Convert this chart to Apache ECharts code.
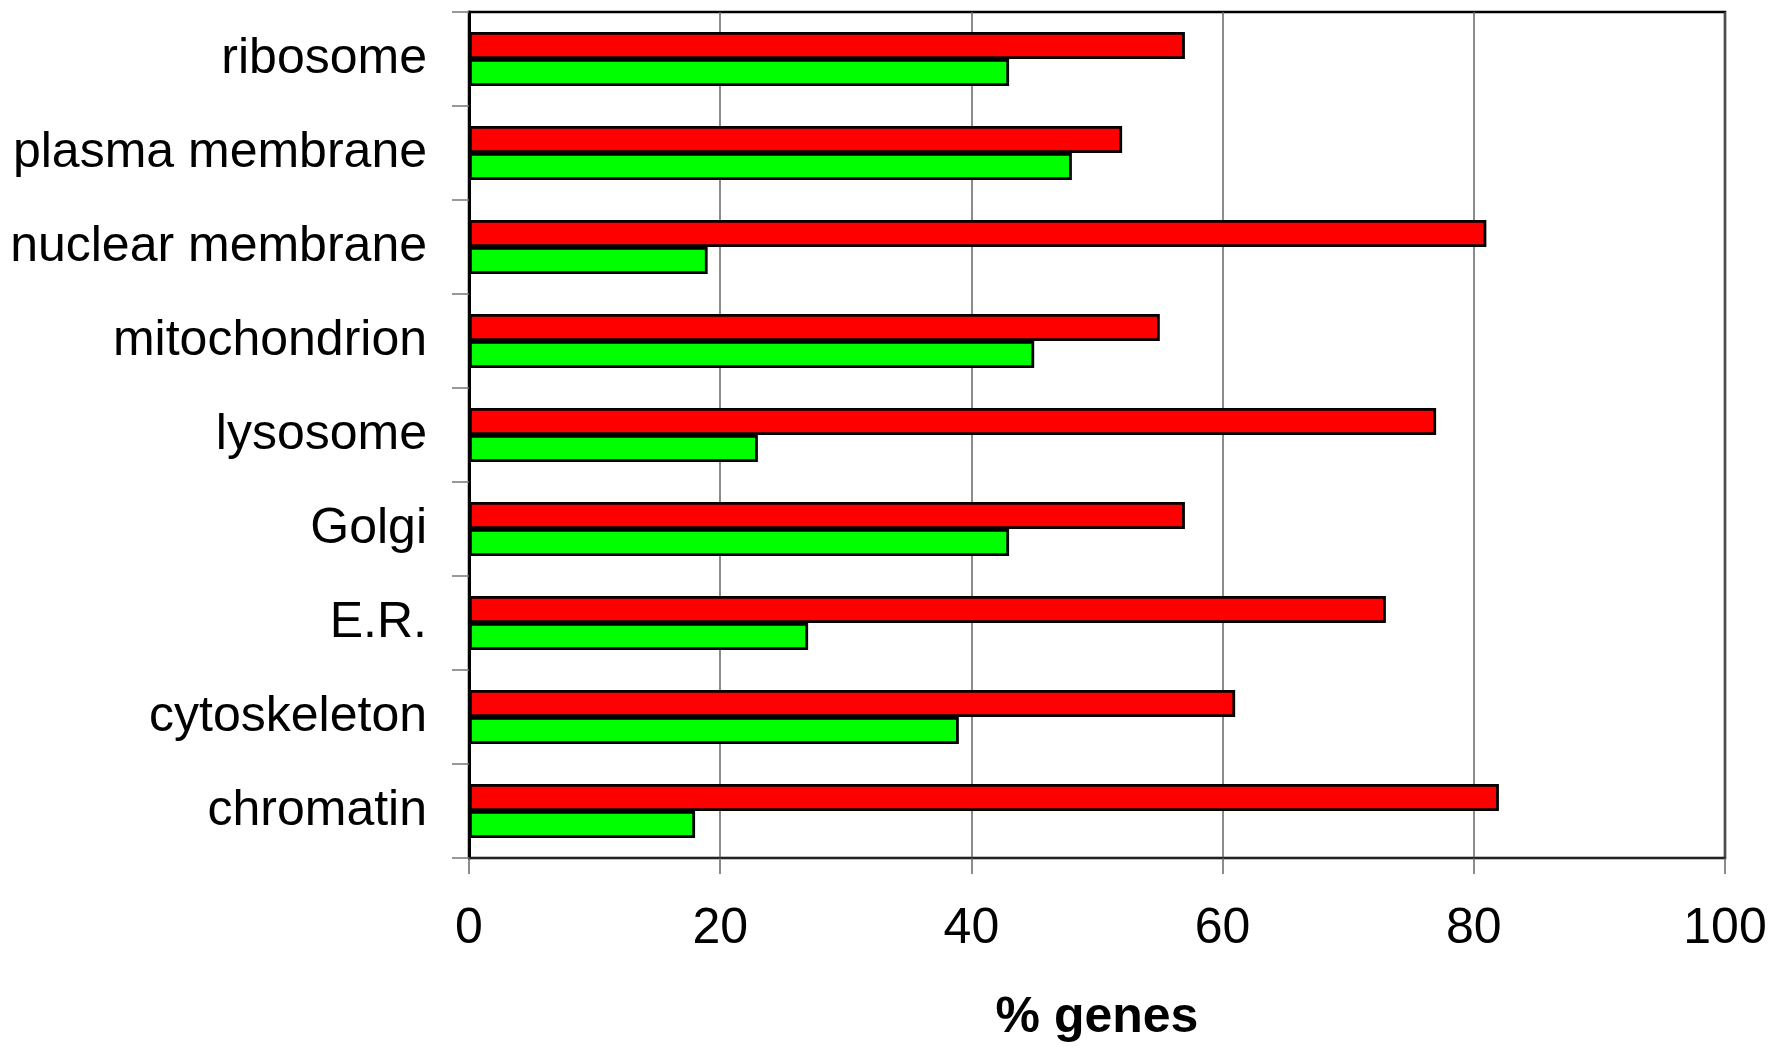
<!DOCTYPE html>
<html>
<head>
<meta charset="utf-8">
<style>
  html, body { margin: 0; padding: 0; background: #ffffff; }
  #chart { width: 1773px; height: 1048px; }
</style>
<script src="https://cdn.jsdelivr.net/npm/echarts@6/dist/echarts.min.js"></script>
</head>
<body>
<div id="chart"></div>
<script>
// Categories, top to bottom as in the reference
const categories = ['ribosome', 'plasma membrane', 'nuclear membrane', 'mitochondrion', 'lysosome', 'Golgi', 'E.R.', 'cytoskeleton', 'chromatin'];
// Red series (upper bar of each pair)
const redValues = [57, 52, 81, 55, 77, 57, 73, 61, 82];
// Green series (lower bar of each pair)
const greenValues = [43, 48, 19, 45, 23, 43, 27, 39, 18];
// X axis ticks
const xTicks = [0, 20, 40, 60, 80, 100];
const xAxisName = '% genes';

const chart = echarts.init(document.getElementById('chart'), null, { renderer: 'canvas' });
const FONT = 'Liberation Sans, Arial, sans-serif';

chart.setOption({
  animation: false,
  backgroundColor: '#ffffff',
  grid: {
    left: 469, right: 48, top: 12, bottom: 190,
    show: true, borderColor: '#000000', borderWidth: 2.5, backgroundColor: 'transparent'
  },
  xAxis: {
    type: 'value',
    min: xTicks[0], max: xTicks[xTicks.length - 1], interval: 20,
    name: xAxisName,
    nameLocation: 'middle',
    nameGap: 135,
    nameTextStyle: { fontFamily: FONT, fontSize: 50, fontWeight: 'bold', color: '#000' },
    axisLine: { show: true, lineStyle: { color: '#222', width: 2 } },
    axisTick: { show: true, length: 16, lineStyle: { color: '#666', width: 1.5 } },
    axisLabel: { fontFamily: FONT, fontSize: 50, color: '#000', margin: 46 },
    splitLine: { show: true, lineStyle: { color: '#666', width: 1.5 } }
  },
  yAxis: {
    type: 'category',
    inverse: true,
    data: categories,
    axisLine: { show: true, lineStyle: { color: '#000', width: 3 } },
    axisTick: { show: true, length: 17, lineStyle: { color: '#777', width: 1.5 } },
    axisLabel: { fontFamily: FONT, fontSize: 50, color: '#000', margin: 42 },
    splitLine: { show: false }
  },
  series: [
    {
      type: 'bar', data: redValues, barWidth: 27, barGap: '0%',
      itemStyle: { color: '#ff0000', borderColor: '#000', borderWidth: 2.8 }
    },
    {
      type: 'bar', data: greenValues, barWidth: 27, barGap: '0%',
      itemStyle: { color: '#00ff00', borderColor: '#000', borderWidth: 2.8 }
    }
  ]
});
</script>
</body>
</html>
